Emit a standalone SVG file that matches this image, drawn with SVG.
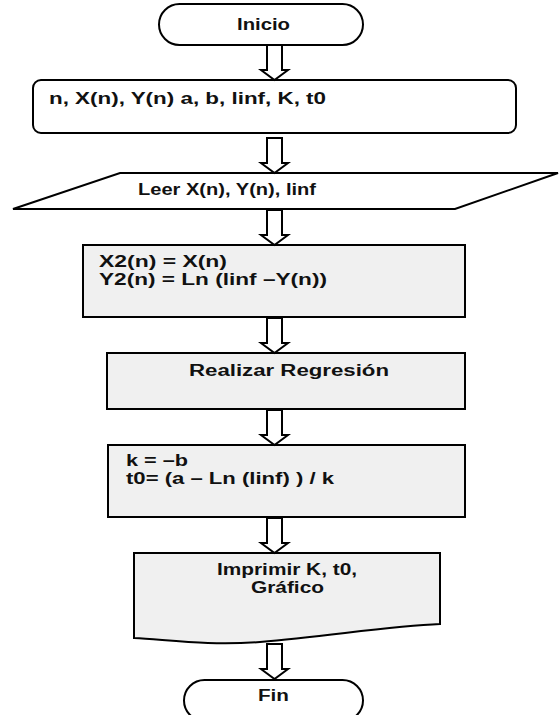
<svg xmlns="http://www.w3.org/2000/svg" width="559" height="715" viewBox="0 0 559 715">
<style>
.s{fill:#fff;stroke:#000;stroke-width:2;stroke-linejoin:miter}
.g{fill:#f0f0f0;stroke:#000;stroke-width:2}
.t{font-family:"Liberation Sans",Arial,sans-serif;font-size:16px;font-weight:bold;fill:#111}
.a{fill:#fff;stroke:#000;stroke-width:2;stroke-linejoin:miter}
</style>
<defs>
<polygon id="arr" points="-7.5,0 7.5,0 7.5,25 13.5,25 0,35 -13.5,25 -7.5,25"/>
</defs>
<rect width="559" height="715" fill="#fff"/>
<g id="inicio">
<rect class="s" x="159" y="4" width="204" height="41" rx="20.5"/>
<text class="t" x="237" y="30" textLength="53" lengthAdjust="spacingAndGlyphs">Inicio</text>
</g>
<g id="datos">
<rect class="s" x="33" y="80" width="483" height="53" rx="8"/>
<text class="t" x="49" y="104" textLength="277" lengthAdjust="spacingAndGlyphs">n, X(n), Y(n) a, b, linf, K, t0</text>
</g>
<g id="leer">
<polygon class="s" points="120,173 558,173 455,209 13,209"/>
<text class="t" x="138" y="195" textLength="178" lengthAdjust="spacingAndGlyphs">Leer X(n), Y(n), linf</text>
</g>
<g id="transformar">
<rect class="g" x="83" y="245" width="382" height="72"/>
<text class="t" x="99" y="267" textLength="128" lengthAdjust="spacingAndGlyphs">X2(n) = X(n)</text>
<text class="t" x="99" y="285" textLength="228" lengthAdjust="spacingAndGlyphs">Y2(n) = Ln (linf –Y(n))</text>
</g>
<g id="regresion">
<rect class="g" x="107" y="353" width="358" height="56"/>
<text class="t" x="189" y="376" textLength="200" lengthAdjust="spacingAndGlyphs">Realizar Regresión</text>
</g>
<g id="calculo">
<rect class="g" x="108" y="445" width="357" height="72"/>
<text class="t" x="126" y="466" textLength="62" lengthAdjust="spacingAndGlyphs">k = –b</text>
<text class="t" x="126" y="484" textLength="208" lengthAdjust="spacingAndGlyphs">t0= (a – Ln (linf) ) / k</text>
</g>
<g id="imprimir">
<path class="g" d="M134,553 H440 V624 C390,626 330,636 260,642 C210,646 170,640 134,638 Z"/>
<text class="t" x="217" y="575" textLength="140" lengthAdjust="spacingAndGlyphs">Imprimir K, t0,</text>
<text class="t" x="251" y="593" textLength="73" lengthAdjust="spacingAndGlyphs">Gráfico</text>
</g>
<g id="fin">
<rect class="s" x="184" y="680" width="179" height="41" rx="20.5"/>
<text class="t" x="258" y="701" textLength="31" lengthAdjust="spacingAndGlyphs">Fin</text>
</g>
<g id="connectors">
<use href="#arr" class="a" x="274.5" y="45"/>
<use href="#arr" class="a" x="274.5" y="138"/>
<use href="#arr" class="a" x="274.5" y="210"/>
<use href="#arr" class="a" x="274.5" y="318"/>
<use href="#arr" class="a" x="274.5" y="410"/>
<use href="#arr" class="a" x="274.5" y="518"/>
<use href="#arr" class="a" x="274.5" y="644"/>
</g>
</svg>
